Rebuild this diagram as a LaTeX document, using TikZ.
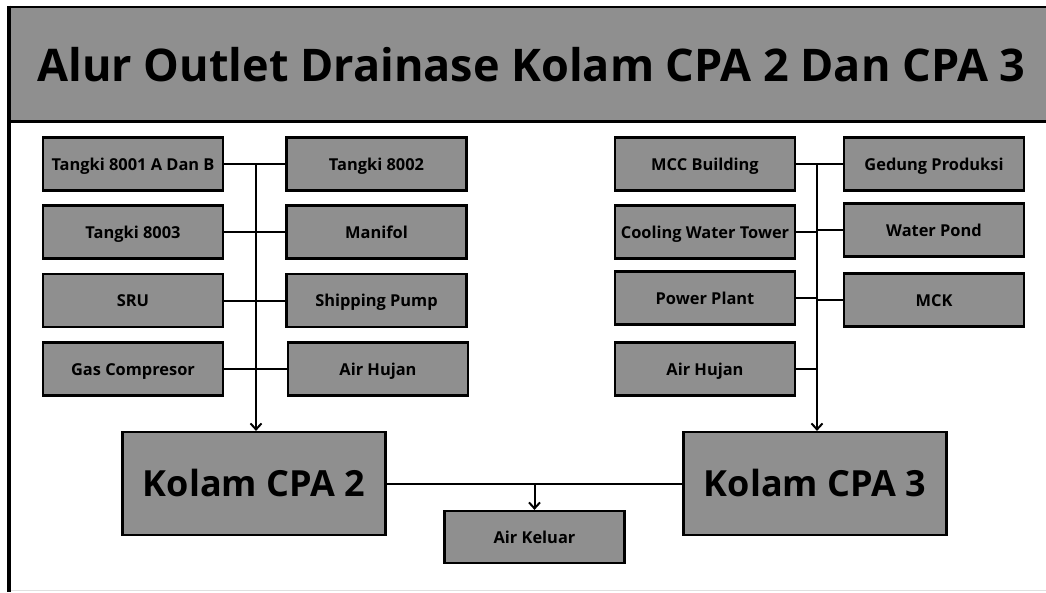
\documentclass[tikz,border=0pt]{standalone}
\usepackage{fontspec}
\setmainfont{Open Sans}
\usepackage{tikz}
\usetikzlibrary{calc, arrows.meta}
\definecolor{boxGray}{HTML}{8F8F8F}

\tikzset{
    unitbox/.style={draw=black, fill=boxGray, line width=2.2pt, inner sep=0pt,
        minimum width=180pt, minimum height=53pt, text height=12pt, text depth=0pt,
        font=\fontsize{16.4}{18}\selectfont\bfseries},
    poolbox/.style={unitbox, minimum width=263pt, minimum height=103pt,
        text height=26pt, font=\fontsize{36}{40}\selectfont\bfseries},
    flow/.style={line width=2pt},
    into/.style={flow, -{Straight Barb[length=6pt, width=11pt]}}
}

\begin{document}
\begin{tikzpicture}[x=1pt, y=-1pt]
    \useasboundingbox (0,0) rectangle (1046,592);
    % frame and title
    \draw[fill=boxGray, line width=2.5pt] (8.5,7) rectangle (1052,121.5);
    \draw[line width=4pt] (9,5.5) -- (9,592);
    \draw[black!12, line width=1.5pt] (11,590.5) -- (1046,590.5);
    \node[text height=32pt, text depth=0pt] (title) at (531.5,65) {\fontsize{45}{50}\selectfont\bfseries Alur Outlet Drainase Kolam CPA 2 Dan CPA 3};

    % left group
    \node[unitbox] (t8001) at (133,164) {Tangki 8001 A Dan B};
    \node[unitbox] (t8002) at (376.5,164) {Tangki 8002};
    \node[unitbox] (t8003) at (133,232) {Tangki 8003};
    \node[unitbox] (manifol) at (376.5,232) {Manifol};
    \node[unitbox] (sru) at (133,300.5) {SRU};
    \node[unitbox] (shipping) at (376.5,300.5) {Shipping Pump};
    \node[unitbox] (gascomp) at (133,369) {Gas Compresor};
    \node[unitbox] (hujanL) at (378,369) {Air Hujan};

    % right group
    \node[unitbox] (mcc) at (705,164) {MCC Building};
    \node[unitbox] (gedung) at (934,164) {Gedung Produksi};
    \node[unitbox] (cooling) at (705,232) {Cooling Water Tower};
    \node[unitbox] (pond) at (934,230) {Water Pond};
    \node[unitbox] (power) at (705,298) {Power Plant};
    \node[unitbox] (mck) at (934,300) {MCK};
    \node[unitbox] (hujanR) at (705,369) {Air Hujan};

    % pools
    \node[poolbox] (kolam2) at (254,483.5) {Kolam CPA 2};
    \node[poolbox] (kolam3) at (815,483.5) {Kolam CPA 3};
    \node[unitbox, minimum height=52pt] (keluar) at (534.5,537) {Air Keluar};

    % left collector
    \coordinate (lbus) at (256,164);
    \draw[flow] (t8001.east) -- (t8002.west);
    \draw[flow] (t8003.east) -- (manifol.west);
    \draw[flow] (sru.east) -- (shipping.west);
    \draw[flow] (gascomp.east) -- (hujanL.west);
    \draw[into] (lbus) -- (lbus |- kolam2.north);

    % right collector
    \coordinate (rbus) at (817,164);
    \draw[flow] (mcc.east) -- (gedung.west);
    \draw[flow] (cooling.east) -- (cooling.east -| rbus);
    \draw[flow] (pond.west) -- (pond.west -| rbus);
    \draw[flow] (power.east) -- (power.east -| rbus);
    \draw[flow] (mck.west) -- (mck.west -| rbus);
    \draw[flow] (hujanR.east) -- (hujanR.east -| rbus);
    \draw[into] (rbus) -- (rbus |- kolam3.north);

    % outlet
    \draw[flow] (kolam2.east) -- (kolam3.west);
    \draw[into] (kolam2.east -| keluar.north) -- (keluar.north);
\end{tikzpicture}
\end{document}
